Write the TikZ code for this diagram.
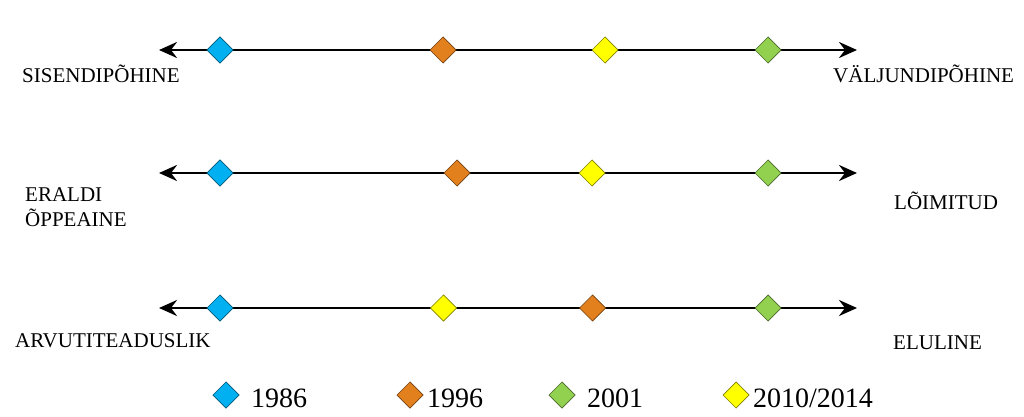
\documentclass[tikz,border=0pt]{standalone}
\usepackage{fontspec}
\setmainfont{Liberation Serif}
\usetikzlibrary{arrows.meta}
\definecolor{cblue}{HTML}{00B0F0}
\definecolor{corange}{HTML}{E2801E}
\definecolor{cgreen}{HTML}{92D050}
\definecolor{cyellow}{HTML}{FFFF00}
\tikzset{
  axis/.style={line width=2.8pt, {Stealth[length=18pt,width=16pt,inset=6pt]}-{Stealth[length=18pt,width=16pt,inset=6pt]}},
  dia/.style={draw=#1!50!black, fill=#1, line width=0.7pt, shape=rectangle, rotate=45, minimum size=18.4pt, inner sep=0pt},
  lbl/.style={inner sep=0pt, anchor=base west, font=\fontsize{21}{25}\selectfont},
  leg/.style={inner sep=0pt, anchor=base west, font=\fontsize{28}{32}\selectfont},
}
\begin{document}
\begin{tikzpicture}[x=1pt,y=-1pt]
\useasboundingbox (0,0) rectangle (1024,417);
% row 1
\coordinate (a1l) at (159,50);
\coordinate (a1r) at (857,50);
\draw[axis] (a1l) -- (a1r);
\node[dia=cblue] (d1a) at (220,50) {};
\node[dia=corange] (d1b) at (443,50) {};
\node[dia=cyellow] (d1c) at (605,50) {};
\node[dia=cgreen] (d1d) at (768,50) {};
\node[lbl] (t1l) at (22,82.5) {SISENDIPÕHINE};
\node[lbl] (t1r) at (833,82.5) {VÄLJUNDIPÕHINE};
% row 2
\coordinate (a2l) at (159,173);
\coordinate (a2r) at (857,173);
\draw[axis] (a2l) -- (a2r);
\node[dia=cblue] (d2a) at (220,173) {};
\node[dia=corange] (d2b) at (457,173) {};
\node[dia=cyellow] (d2c) at (592,173) {};
\node[dia=cgreen] (d2d) at (768,173) {};
\node[lbl] (t2l) at (25,201) {ERALDI};
\node[lbl] (t2m) at (25,226) {ÕPPEAINE};
\node[lbl] (t2r) at (894,209) {LÕIMITUD};
% row 3
\coordinate (a3l) at (159,308);
\coordinate (a3r) at (857,308);
\draw[axis] (a3l) -- (a3r);
\node[dia=cblue] (d3a) at (220,308) {};
\node[dia=cyellow] (d3b) at (443.5,308) {};
\node[dia=corange] (d3c) at (592.5,308) {};
\node[dia=cgreen] (d3d) at (768,308) {};
\node[lbl] (t3l) at (15,347) {ARVUTITEADUSLIK};
\node[lbl] (t3r) at (893,349) {ELULINE};
% legend
\node[dia=cblue] (l1) at (226,395) {};
\node[leg] (lt1) at (251,407) {1986};
\node[dia=corange] (l2) at (410,395) {};
\node[leg] (lt2) at (427,407) {1996};
\node[dia=cgreen] (l3) at (562,395) {};
\node[leg] (lt3) at (587,407) {2001};
\node[dia=cyellow] (l4) at (736,395) {};
\node[leg] (lt4) at (753,407) {2010/2014};
\end{tikzpicture}
\end{document}
